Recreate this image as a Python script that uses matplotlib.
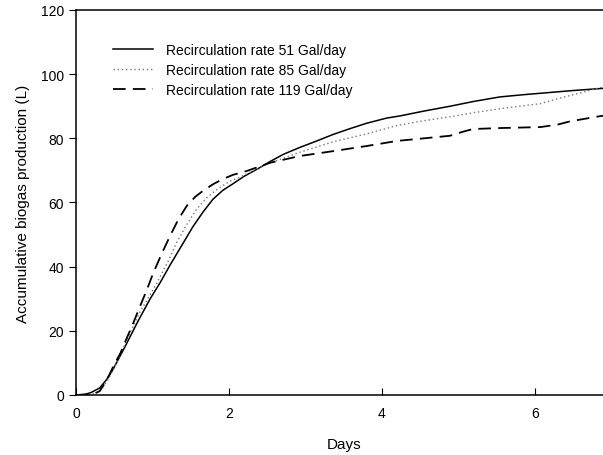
import matplotlib.pyplot as plt
import numpy as np

plt.rcParams['font.family'] = ['Liberation Sans', 'DejaVu Sans']

# Accumulative biogas production (L)
days_51 = [0.0, 0.12, 0.2, 0.31, 0.4, 0.48, 0.64, 0.8, 0.97, 1.1, 1.23, 1.38, 1.53,
           1.66, 1.79, 1.92, 2.05, 2.2, 2.37, 2.54, 2.71, 2.93, 3.15, 3.36, 3.58,
           3.8, 4.06, 4.24, 4.55, 4.89, 5.2, 5.54, 5.85, 6.2, 6.5, 6.85, 7.0]
gas_51 = [0.0, 0.2, 0.8, 2.2, 4.8, 7.8, 15.0, 22.5, 30.0, 35.0, 40.5, 46.5, 52.5,
          57.0, 61.0, 63.8, 65.8, 68.2, 70.4, 72.8, 75.0, 77.2, 79.2, 81.2, 83.0,
          84.7, 86.3, 87.0, 88.5, 90.0, 91.5, 92.9, 93.6, 94.3, 94.9, 95.5, 95.8]

days_85 = [0.0, 0.2, 0.3, 0.4, 0.5, 0.61, 0.72, 0.84, 0.95, 1.06, 1.2, 1.32, 1.45,
           1.58, 1.71, 1.84, 2.0, 2.18, 2.5, 2.93, 3.36, 3.8, 4.2, 4.55, 4.89, 5.2,
           5.54, 5.8, 6.07, 6.29, 6.6, 6.85, 7.0]
gas_85 = [0.0, 0.2, 1.0, 4.0, 8.5, 14.3, 20.0, 26.0, 30.5, 35.0, 41.5, 47.7, 53.2,
          58.0, 61.5, 64.0, 66.5, 68.3, 72.0, 75.7, 78.9, 81.4, 84.0, 85.5, 86.7,
          88.0, 89.2, 90.0, 90.8, 92.3, 94.2, 95.8, 96.5]

days_119 = [0.0, 0.22, 0.31, 0.4, 0.49, 0.58, 0.66, 0.75, 0.84, 0.93, 1.01, 1.12,
            1.23, 1.34, 1.45, 1.56, 1.67, 1.8, 1.92, 2.05, 2.23, 2.54, 2.93, 3.36,
            3.8, 4.2, 4.55, 4.89, 5.05, 5.19, 5.54, 6.07, 6.3, 6.46, 6.85, 7.0]
gas_119 = [0.0, 0.2, 1.2, 4.5, 9.0, 13.0, 17.5, 22.5, 27.8, 33.0, 38.0, 44.0,
           49.6, 54.8, 59.0, 61.8, 63.8, 65.8, 67.3, 68.6, 69.8, 72.4, 74.5, 76.0,
           77.6, 79.2, 80.0, 80.8, 82.0, 82.9, 83.2, 83.5, 84.3, 85.3, 86.9, 87.4]

fig = plt.figure(figsize=(6.03, 4.56), dpi=100)
ax = fig.add_axes([0.126, 0.1316, 0.888, 0.8443])

ax.plot(days_51, gas_51, color='black', lw=1.1, label='Recirculation rate 51 Gal/day')
ax.plot(days_85, gas_85, color='#777777', lw=1.0, linestyle=(0, (1, 2)),
        label='Recirculation rate 85 Gal/day')
ax.plot(days_119, gas_119, color='black', lw=1.3, linestyle=(0, (7, 4)),
        label='Recirculation rate 119 Gal/day')

ax.set_xlim(0, 7)
ax.set_ylim(0, 120)
ax.set_xticks([0, 2, 4, 6])
ax.set_yticks([0, 20, 40, 60, 80, 100, 120])
ax.tick_params(axis='x', direction='in', length=5, labelsize=10, pad=8)
ax.tick_params(axis='y', direction='out', length=5, labelsize=10)
for s in ax.spines.values():
    s.set_linewidth(1.1)

ax.set_xlabel('Days', fontsize=11, labelpad=12)
ax.set_ylabel('Accumulative biogas production (L)', fontsize=11, labelpad=8)

ax.legend(loc='upper left', bbox_to_anchor=(0.069, 0.914), frameon=False, fontsize=10,
          handlelength=2.9, handletextpad=0.95, labelspacing=0.42, borderaxespad=0,
          borderpad=0)

plt.savefig('out.png', dpi=100)
